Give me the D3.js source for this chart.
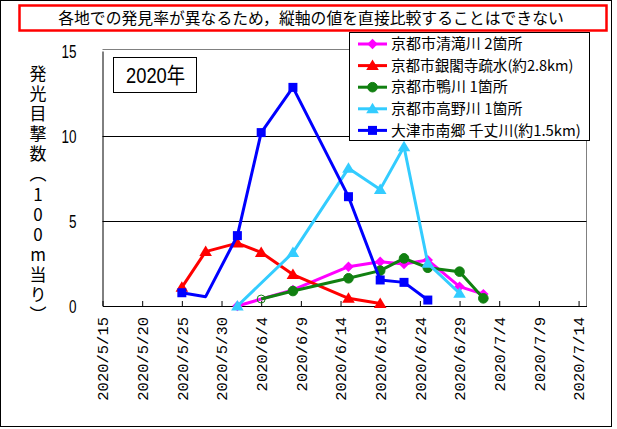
<!DOCTYPE html>
<html><head><meta charset="utf-8">
<script src="https://cdn.jsdelivr.net/npm/d3@7"></script>
<style>body{margin:0;background:#fff}svg{display:block}</style>
</head><body>
<svg id="c" width="617" height="429"></svg>
<script>
// ---- data ----
const titleText = "各地での発見率が異なるため，縦軸の値を直接比較することはできない";
const yearLabel = "2020年";
const yAxisTitle = "発光目撃数︵100m当り︶";
const yTicks = [0, 5, 10, 15];
const xTickDates = ["2020-05-15","2020-05-20","2020-05-25","2020-05-30","2020-06-04","2020-06-09","2020-06-14","2020-06-19","2020-06-24","2020-06-29","2020-07-04","2020-07-09","2020-07-14"];
const seriesNames = ["京都市清滝川 2箇所","京都市銀閣寺疏水(約2.8km)","京都市鴨川 1箇所","京都市高野川 1箇所","大津市南郷 千丈川(約1.5km)"];
const seriesColors = ["#ff00ff","#ff0000","#118011","#33ccff","#0000ff"];
const seriesMarkers = ["diamond","triangle","circle","triangle","square"];

const kiyotakiDates = ["2020-06-01","2020-06-08","2020-06-15","2020-06-19","2020-06-22","2020-06-25","2020-06-29","2020-07-02"];
const kiyotakiValues = [0, 0.95, 2.31, 2.6, 2.47, 2.7, 1.14, 0.7];
const ginkakujiDates = ["2020-05-25","2020-05-28","2020-06-01","2020-06-04","2020-06-08","2020-06-15","2020-06-19"];
const ginkakujiValues = [1.1, 3.2, 3.7, 3.15, 1.85, 0.45, 0.15];
const kamoDates = ["2020-06-04","2020-06-08","2020-06-15","2020-06-19","2020-06-22","2020-06-25","2020-06-29","2020-07-02"];
const kamoValues = [0.41, 0.88, 1.63, 2.08, 2.8, 2.25, 2.02, 0.45];
const kamoHollow = [true, false, false, false, false, false, false, false];
const takanoDates = ["2020-06-01","2020-06-08","2020-06-15","2020-06-19","2020-06-22","2020-06-25","2020-06-29"];
const takanoValues = [0, 3.14, 8.1, 6.86, 9.37, 2.51, 0.75];
const senjoDates = ["2020-05-25","2020-05-28","2020-06-01","2020-06-04","2020-06-08","2020-06-15","2020-06-19","2020-06-22","2020-06-25"];
const senjoValues = [0.78, 0.55, 4.14, 10.2, 12.86, 6.43, 1.53, 1.39, 0.35];
const senjoNoMarker = [false, true, false, false, false, false, false, false, false];

const parse = d3.utcParse("%Y-%m-%d");
const series = [
  {dates: kiyotakiDates, values: kiyotakiValues},
  {dates: ginkakujiDates, values: ginkakujiValues},
  {dates: kamoDates, values: kamoValues, hollow: kamoHollow},
  {dates: takanoDates, values: takanoValues},
  {dates: senjoDates, values: senjoValues, none: senjoNoMarker}
].map((s, i) => ({
  name: seriesNames[i], color: seriesColors[i], marker: seriesMarkers[i],
  points: s.dates.map((d, j) => ({date: parse(d), value: s.values[j],
    hollow: s.hollow ? s.hollow[j] : false, none: s.none ? s.none[j] : false}))
}));

// ---- helpers ----
const JP = "'Noto Sans CJK JP','Noto Sans',sans-serif";
function msWidth(str, em) {
  let w = 0;
  for (const ch of str) w += ch.charCodeAt(0) < 0x2000 ? em / 2 : em;
  return w;
}
function markerPath(type, size) {
  const s = size;
  if (type === "diamond") return `M0,${-s}L${s},0L0,${s}L${-s},0Z`;
  if (type === "triangle") return `M0,${-s}L${s*1.05},${s*0.75}L${-s*1.05},${s*0.75}Z`;
  if (type === "square") return `M${-s},${-s}H${s}V${s}H${-s}Z`;
  return null;
}
function drawMarker(g, type, color, cx, cy, hollow) {
  if (type === "circle") {
    g.append("circle").attr("cx", cx).attr("cy", cy).attr("r", hollow ? 4 : 4.8)
      .attr("fill", hollow ? "none" : color).attr("stroke", color).attr("stroke-width", 1);
  } else {
    const sz = type === "diamond" ? 5.2 : type === "triangle" ? 6 : 4.5;
    g.append("path").attr("d", markerPath(type, sz))
      .attr("transform", `translate(${cx},${cy})`).attr("fill", color);
  }
}

// ---- layout ----
const svg = d3.select("#c");
const L = 102.5, R = 586.5, B = 306, T = 51;
const x = d3.scaleUtc().domain([parse("2020-05-15"), parse("2020-07-15")]).range([L, R]);
const y = d3.scaleLinear().domain([0, 15]).range([B, T]);

svg.append("rect").attr("x", 0.5).attr("y", 0.5).attr("width", 611).attr("height", 426)
  .attr("fill", "#fff").attr("stroke", "#000");

// title box
svg.append("rect").attr("x", 19.5).attr("y", 5.5).attr("width", 587).attr("height", 25)
  .attr("fill", "none").attr("stroke", "#ff0000").attr("stroke-width", 2.5);
svg.append("text").attr("x", 311).attr("y", 24).attr("text-anchor", "middle")
  .attr("font-family", JP).attr("font-size", 15.5)
  .attr("textLength", msWidth(titleText, 15.8)).attr("lengthAdjust", "spacingAndGlyphs")
  .text(titleText);

// frame (top/right gray)
svg.append("path").attr("d", `M${L},${T - 1.5}H${R}V${B}`).attr("fill", "none").attr("stroke", "#808080");

// gridlines
svg.append("g").selectAll("line").data(yTicks.filter(v => v > 0 && v < 15)).join("line")
  .attr("x1", L).attr("x2", R).attr("y1", d => Math.round(y(d)) + 0.5).attr("y2", d => Math.round(y(d)) + 0.5)
  .attr("stroke", "#000");

// x axis
const xAxis = svg.append("g").attr("transform", `translate(0,${B})`)
  .call(d3.axisBottom(x).tickValues(xTickDates.map(parse)).tickSize(-5).tickSizeOuter(0)
    .tickFormat(d => `${d.getUTCFullYear()}/${d.getUTCMonth() + 1}/${d.getUTCDate()}`));
xAxis.select(".domain").attr("stroke", "#000");
xAxis.selectAll(".tick line").attr("stroke", "#000");
xAxis.selectAll(".tick text")
  .attr("transform", "rotate(-90)").attr("text-anchor", "end")
  .attr("x", -11).attr("y", 0).attr("dy", "0.36em")
  .attr("font-family", "'Liberation Mono','DejaVu Sans Mono',monospace").attr("font-size", 15)
  .attr("fill", "#000")
  .each(function () { const t = this.textContent; d3.select(this).attr("textLength", t.length * 9.3).attr("lengthAdjust", "spacingAndGlyphs"); });

// y axis
const yAxis = svg.append("g").attr("transform", `translate(${L},0)`)
  .call(d3.axisLeft(y).tickValues(yTicks).tickSize(0).tickSizeOuter(0).tickPadding(26));
yAxis.select(".domain").attr("stroke", "#000");
yAxis.selectAll(".tick text").attr("font-family", "'Liberation Sans',sans-serif").attr("font-size", 18)
  .attr("fill", "#000").attr("dy", "0.36em")
  .each(function () { const t = this.textContent; d3.select(this).attr("textLength", t.length * 7.5).attr("lengthAdjust", "spacingAndGlyphs"); });

// y axis title (vertical writing)
svg.append("text").attr("x", 38).attr("y", 65)
  .style("writing-mode", "vertical-rl").style("text-orientation", "upright")
  .style("letter-spacing", "3.1px")
  .attr("font-family", JP).attr("font-size", 17).attr("fill", "#000")
  .text(yAxisTitle);

// year box
svg.append("rect").attr("x", 113.5).attr("y", 57.5).attr("width", 83).attr("height", 35)
  .attr("fill", "#fff").attr("stroke", "#000");
svg.append("text").attr("x", 126).attr("y", 83).attr("font-family", "'Liberation Sans'," + JP)
  .attr("font-size", 22).attr("textLength", msWidth(yearLabel, 19.7)).attr("lengthAdjust", "spacingAndGlyphs")
  .text(yearLabel);

// series
const line = d3.line().x(d => x(d.date)).y(d => y(d.value));
const sg = svg.append("g");
series.forEach(s => {
  sg.append("path").datum(s.points).attr("d", line).attr("fill", "none")
    .attr("stroke", s.color).attr("stroke-width", 3).attr("stroke-linejoin", "round");
  const mg = sg.append("g");
  s.points.forEach(p => { if (!p.none) drawMarker(mg, s.marker, s.color, x(p.date), y(p.value), p.hollow); });
});

// legend
const lg = svg.append("g");
lg.append("rect").attr("x", 349.5).attr("y", 32.5).attr("width", 240).attr("height", 108)
  .attr("fill", "#fff").attr("stroke", "#000");
series.forEach((s, i) => {
  const cy = 44 + i * 21.6;
  lg.append("line").attr("x1", 358).attr("x2", 387).attr("y1", cy).attr("y2", cy)
    .attr("stroke", s.color).attr("stroke-width", 3);
  drawMarker(lg, s.marker, s.color, 372.5, cy, false);
  lg.append("text").attr("x", 391).attr("y", cy).attr("dy", "0.36em")
    .attr("font-family", JP).attr("font-size", 14.5).attr("fill", "#000")
    .attr("textLength", msWidth(s.name, 14.6)).attr("lengthAdjust", "spacingAndGlyphs")
    .text(s.name);
});
</script>
</body></html>
